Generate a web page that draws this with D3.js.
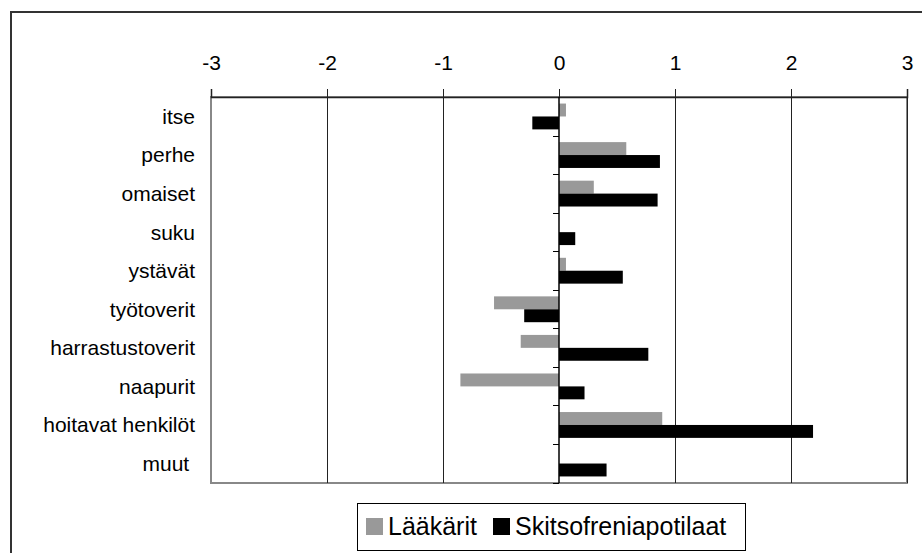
<!DOCTYPE html>
<html>
<head>
<meta charset="utf-8">
<script src="https://cdn.jsdelivr.net/npm/d3@7"></script>
<style>
  body { margin: 0; background: #fff; }
  svg { display: block; font-family: "Liberation Sans", Arial, sans-serif; }
</style>
</head>
<body>
<script>
const categories = ["itse", "perhe", "omaiset", "suku", "ystävät", "työtoverit",
  "harrastustoverit", "naapurit", "hoitavat henkilöt", "muut "];
const seriesNames = ["Lääkärit", "Skitsofreniapotilaat"];
const laakarit = [0.06, 0.58, 0.30, 0, 0.06, -0.56, -0.33, -0.85, 0.89, 0];
const potilaat = [-0.23, 0.87, 0.85, 0.14, 0.55, -0.30, 0.77, 0.22, 2.19, 0.41];
const xTicks = [-3, -2, -1, 0, 1, 2, 3];
const colors = ["#999999", "#000000"];

const width = 922, height = 553;
const plot = {left: 211, right: 907, top: 97, bottom: 483};

const svg = d3.select("body").append("svg")
  .attr("width", width)
  .attr("height", height);

// outer chart border (runs off the right and bottom edges)
svg.append("rect")
  .attr("x", 11).attr("y", 12)
  .attr("width", width + 10).attr("height", height + 10)
  .attr("fill", "none")
  .attr("stroke", "#333")
  .attr("stroke-width", 2);

const x = d3.scaleLinear()
  .domain([d3.min(xTicks), d3.max(xTicks)])
  .range([plot.left, plot.right]);

const y = d3.scaleBand()
  .domain(categories)
  .range([plot.top, plot.bottom])
  .paddingInner(0.33)
  .paddingOuter(0.17);

const yInner = d3.scaleBand()
  .domain(seriesNames)
  .range([0, y.bandwidth()]);

const rows = categories.map((c, i) => ({cat: c, vals: [laakarit[i], potilaat[i]]}));

// plot frame
svg.append("rect")
  .attr("x", plot.left).attr("y", plot.top)
  .attr("width", plot.right - plot.left).attr("height", plot.bottom - plot.top)
  .attr("fill", "none")
  .attr("stroke", "#888")
  .attr("stroke-width", 2);

// vertical gridlines
svg.append("g")
  .selectAll("line")
  .data(xTicks.filter(t => t !== 0 && t !== d3.min(xTicks)))
  .enter().append("line")
  .attr("x1", d => Math.round(x(d)) + 0.5).attr("x2", d => Math.round(x(d)) + 0.5)
  .attr("y1", plot.top).attr("y2", plot.bottom)
  .attr("stroke", "#222");

// bars
const groups = svg.append("g")
  .selectAll("g")
  .data(rows)
  .enter().append("g")
  .attr("transform", d => "translate(0," + y(d.cat) + ")");

groups.selectAll("rect")
  .data(d => d.vals.map((v, j) => ({name: seriesNames[j], v: v, j: j})))
  .enter().append("rect")
  .attr("x", d => x(Math.min(0, d.v)))
  .attr("y", d => yInner(d.name))
  .attr("width", d => Math.abs(x(d.v) - x(0)))
  .attr("height", yInner.bandwidth())
  .attr("fill", d => colors[d.j]);

// top axis
const xAxis = d3.axisTop(x)
  .tickValues(xTicks)
  .tickSize(8)
  .tickPadding(19)
  .tickFormat(d3.format("d"));

const gx = svg.append("g")
  .attr("transform", "translate(0," + plot.top + ")")
  .call(xAxis);
gx.select(".domain").attr("stroke", "#222").attr("stroke-width", 1.5);
gx.selectAll(".tick line").attr("stroke", "#222");
gx.selectAll(".tick text")
  .attr("fill", "#000")
  .style("font-size", "21px")
  .style("font-family", "'Liberation Sans', Arial, sans-serif")
  .text(d => d < 0 ? "-" + Math.abs(d) : d);

// category axis on the zero line
const boundaries = categories.map(c => y(c) - y.step() * y.paddingOuter()).concat([plot.bottom]);
const gy = svg.append("g");
gy.append("line")
  .attr("x1", x(0)).attr("x2", x(0))
  .attr("y1", plot.top).attr("y2", plot.bottom)
  .attr("stroke", "#000").attr("stroke-width", 1.5);
gy.selectAll("line.tk")
  .data(boundaries.slice(1))
  .enter().append("line")
  .attr("class", "tk")
  .attr("x1", x(0) - 6).attr("x2", x(0))
  .attr("y1", d => Math.round(d) + 0.5).attr("y2", d => Math.round(d) + 0.5)
  .attr("stroke", "#000");

// category labels
svg.append("g")
  .selectAll("text")
  .data(categories)
  .enter().append("text")
  .attr("x", 195)
  .attr("y", d => y(d) + y.bandwidth() / 2)
  .attr("dy", "0.35em")
  .attr("text-anchor", "end")
  .style("font-size", "21px")
  .style("white-space", "pre")
  .text(d => d);

// legend
const legend = svg.append("g");
legend.append("rect")
  .attr("x", 357.5).attr("y", 503.5)
  .attr("width", 388).attr("height", 47)
  .attr("fill", "#fff")
  .attr("stroke", "#000");

const legendX = [366, 493];
const items = legend.selectAll("g.item")
  .data(seriesNames)
  .enter().append("g")
  .attr("class", "item")
  .attr("transform", (d, i) => "translate(" + legendX[i] + ",518)");
items.append("rect")
  .attr("width", 17).attr("height", 17)
  .attr("fill", (d, i) => colors[i]);
items.append("text")
  .attr("x", 22)
  .attr("y", 8.5)
  .attr("dy", "0.35em")
  .style("font-size", "25px")
  .text(d => d);
</script>
</body>
</html>
